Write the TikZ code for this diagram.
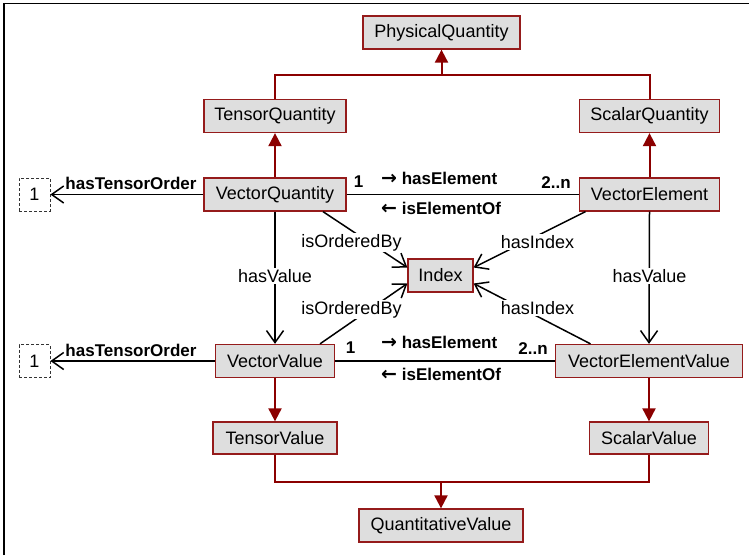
\documentclass[tikz,border=0pt]{standalone}
\usepackage{fontspec}
\setmainfont{Liberation Sans}
\newfontfamily\arrfont{DejaVu Sans}
\usetikzlibrary{arrows.meta}
\definecolor{boxred}{HTML}{951B1B}
\definecolor{inhred}{HTML}{8B0000}
\definecolor{boxfill}{HTML}{DEDEDE}
\tikzset{
  cls/.style={draw=boxred, fill=boxfill, line width=1.3pt, minimum height=33pt, inner sep=0pt, font=\fontsize{18}{20}\selectfont},
  lit/.style={draw=black!80, dash pattern=on 3pt off 2pt, line width=0.8pt, minimum width=31pt, minimum height=33pt, inner sep=0pt, font=\fontsize{18}{20}\selectfont},
  inhl/.style={draw=inhred, line width=2pt},
  inh/.style={inhl, -{Triangle[length=13pt,width=13pt]}},
  rel/.style={draw=black, line width=1.5pt},
  relarr/.style={rel, -{Straight Barb[length=12pt,width=17pt,line width=1.5pt]}},
  lbl/.style={fill=white, inner sep=1.5pt, font=\fontsize{18}{20}\selectfont},
  blbl/.style={inner sep=0pt, font=\fontsize{17}{20}\selectfont\bfseries},
}
\newcommand{\rarr}{{\arrfont\fontsize{19}{20}\selectfont\bfseries →}}
\newcommand{\larr}{{\arrfont\fontsize{19}{20}\selectfont\bfseries ←}}
\begin{document}
\begin{tikzpicture}[x=1pt,y=-1pt]
\useasboundingbox (0,0) rectangle (749,555);
\fill[white] (0,0) rectangle (749,555);
\draw[line width=1.3pt] (4,555) -- (4,3.5) -- (749,3.5);

% classes
\node[cls, minimum width=157pt] (PQ) at (441.5,32.5) {PhysicalQuantity};
\node[cls, minimum width=142pt] (TQ) at (275,116) {TensorQuantity};
\node[cls, minimum width=140pt] (SQ) at (649.5,116) {ScalarQuantity};
\node[cls, minimum width=142pt] (VQ) at (275,194.5) {VectorQuantity};
\node[cls, minimum width=140pt] (VE) at (649.5,194.5) {VectorElement};
\node[cls, minimum width=65pt] (IX) at (440.5,275.5) {Index};
\node[cls, minimum width=119pt] (VV) at (275,361) {VectorValue};
\node[cls, minimum width=187pt] (VEV) at (649,361) {VectorElementValue};
\node[cls, minimum width=124pt, minimum height=32pt] (TV) at (275,438) {TensorValue};
\node[cls, minimum width=119pt, minimum height=32pt] (SV) at (649,438) {ScalarValue};
\node[cls, minimum width=164pt] (QV) at (441,525.5) {QuantitativeValue};
\node[lit] (D1) at (34.5,194.5) {1};
\node[lit] (D2) at (34.5,361) {1};

% inheritance
\coordinate (j1) at (441.5,75);
\coordinate (j2) at (441,482);
\draw[inhl] (TQ.north) |- (j1) -| (SQ.north);
\draw[inh] (j1) -- (PQ.south);
\draw[inh] (VQ.north) -- (TQ.south);
\draw[inh] (VE.north) -- (SQ.south);
\draw[inh] (VV.south) -- (TV.north);
\draw[inh] (VEV.south) -- (SV.north);
\draw[inhl] (TV.south) |- (j2) -| (SV.south);
\draw[inh] (j2) -- (QV.north);

% relations
\draw[relarr] (VQ.west) -- (D1.east);
\draw[relarr] (VV.west) -- (D2.east);
\draw[rel] (VQ.east) -- (VE.west);
\draw[rel] (VV.east) -- (VEV.west);
\draw[relarr] (VQ.south) -- (VV.north);
\draw[relarr] (VE.south) -- (VEV.north);
\draw[relarr] ([xshift=48pt]VQ.south) -- ([yshift=8pt]IX.west);
\draw[relarr] ([xshift=-64pt]VE.south) -- ([yshift=8pt]IX.east);
\draw[relarr] ([xshift=45pt]VV.north) -- ([yshift=-8pt]IX.west);
\draw[relarr] ([xshift=-58.5pt]VEV.north) -- ([yshift=-8pt]IX.east);

% labels on lines
\node[lbl] (l1) at (275,276) {hasValue};
\node[lbl] (l2) at (649.5,276) {hasValue};
\node[lbl] (l3) at (351.5,242.5) {isOrderedBy};
\node[lbl] (l4) at (351.5,309.5) {isOrderedBy};
\node[lbl] (l5) at (537.5,242) {hasIndex};
\node[lbl] (l6) at (537.5,308) {hasIndex};

% bold labels
\node[blbl] (t1) at (131,183.5) {hasTensorOrder};
\node[blbl] (t2) at (131,350) {hasTensorOrder};
\node[blbl] (m1) at (358.5,181.5) {1};
\node[blbl] (m2) at (350.5,347.5) {1};
\node[blbl] (n1) at (556,183) {2..n};
\node[blbl] (n2) at (533,349) {2..n};
\node[blbl, anchor=west] (e1) at (381,178) {\rarr\ hasElement};
\node[blbl, anchor=west] (e2) at (381,342.5) {\rarr\ hasElement};
\node[blbl, anchor=west] (o1) at (381,208.5) {\larr\ isElementOf};
\node[blbl, anchor=west] (o2) at (381,374.5) {\larr\ isElementOf};
\end{tikzpicture}
\end{document}
